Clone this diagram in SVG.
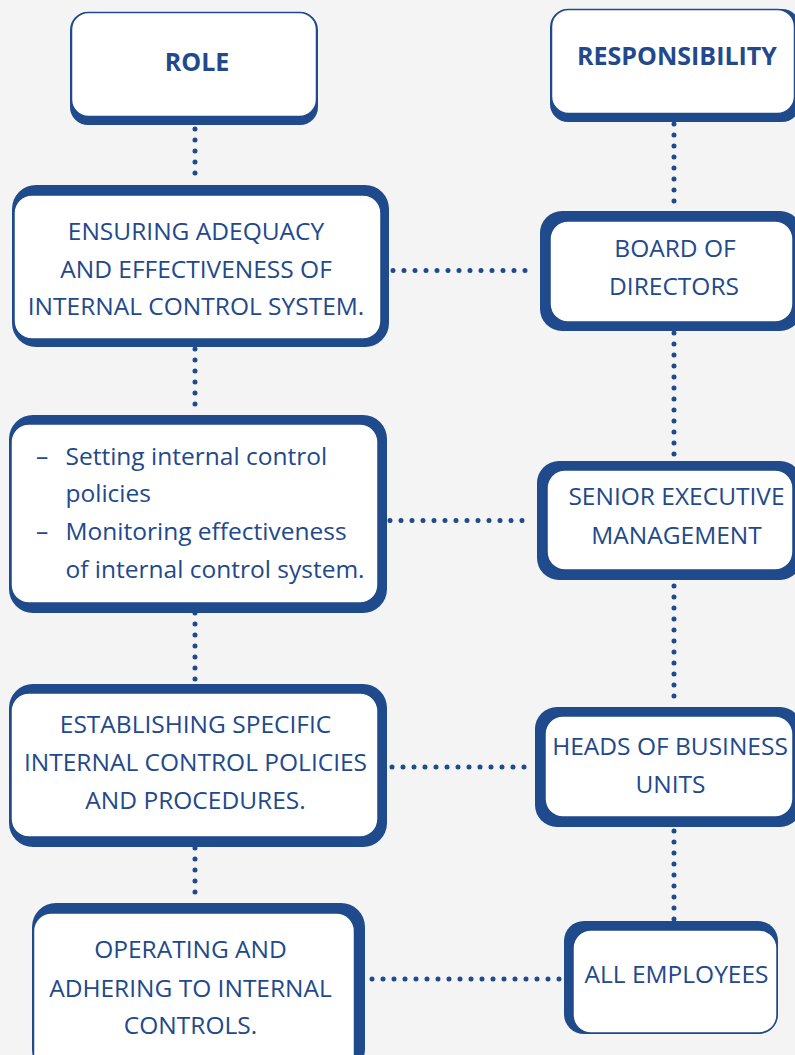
<svg xmlns="http://www.w3.org/2000/svg" width="795" height="1055" viewBox="0 0 795 1055">
<style>
.sh{fill:#1f4a8b}
.bx{fill:#ffffff;stroke:#1f4a8b;stroke-width:1.5}
.t{font-family:"Open Sans","Noto Sans",sans-serif;font-size:24.5px;fill:#22498b;text-anchor:middle}
.tl{font-family:"Open Sans","Noto Sans",sans-serif;font-size:24.5px;fill:#22498b}
.h{font-family:"Open Sans","Noto Sans",sans-serif;font-size:25px;font-weight:bold;fill:#22498b;text-anchor:middle}
.c{stroke:#1f4a8b;stroke-width:5;stroke-linecap:round;stroke-dasharray:0 11;fill:none}
</style>
<rect width="795" height="1055" fill="#f4f4f4"/>
<g id="connectors">
<line class="c" x1="195" y1="129" x2="195" y2="184"/>
<line class="c" x1="195" y1="349" x2="195" y2="415"/>
<line class="c" x1="195" y1="613" x2="195" y2="684"/>
<line class="c" x1="195" y1="848" x2="195" y2="903"/>
<line class="c" x1="674" y1="124" x2="674" y2="212"/>
<line class="c" x1="674" y1="333" x2="674" y2="461"/>
<line class="c" x1="674" y1="586" x2="674" y2="707"/>
<line class="c" x1="674" y1="831" x2="674" y2="920"/>
<line class="c" x1="393" y1="270.5" x2="536" y2="270.5"/>
<line class="c" x1="390" y1="520.5" x2="533" y2="520.5"/>
<line class="c" x1="392" y1="767" x2="532" y2="767"/>
<line class="c" x1="372" y1="979" x2="560" y2="979"/>
</g>
<g id="role">
<rect class="sh" x="70" y="12" width="248" height="113" rx="18"/>
<rect class="bx" x="71.5" y="12.5" width="245" height="104" rx="17"/>
<text class="h" x="197" y="70.5">ROLE</text>
</g>
<g id="responsibility">
<rect class="sh" x="550" y="9" width="250" height="113" rx="18"/>
<rect class="bx" x="551.5" y="9.5" width="243" height="104" rx="17"/>
<text class="h" x="677" y="65">RESPONSIBILITY</text>
</g>
<g id="role-1">
<rect class="sh" x="12" y="185" width="377" height="162" rx="24"/>
<rect class="bx" x="14" y="195" width="367" height="144" rx="18"/>
<text class="t" x="196" y="240">ENSURING ADEQUACY</text>
<text class="t" x="196" y="277.5">AND EFFECTIVENESS OF</text>
<text class="t" x="196" y="315">INTERNAL CONTROL SYSTEM.</text>
</g>
<g id="board">
<rect class="sh" x="540" y="211" width="262" height="120" rx="22"/>
<rect class="bx" x="550" y="221" width="243" height="101" rx="18"/>
<text class="t" x="675" y="256.5">BOARD OF</text>
<text class="t" x="674" y="295">DIRECTORS</text>
</g>
<g id="role-2">
<rect class="sh" x="9" y="415" width="378" height="198" rx="24"/>
<rect class="bx" x="11" y="424" width="367" height="179" rx="18"/>
<text class="tl" x="36" y="465">–</text>
<text class="tl" x="65.5" y="465">Setting internal control</text>
<text class="tl" x="65.5" y="502">policies</text>
<text class="tl" x="36" y="540">–</text>
<text class="tl" x="65.5" y="540">Monitoring effectiveness</text>
<text class="tl" x="65.5" y="578">of internal control system.</text>
</g>
<g id="senior">
<rect class="sh" x="537" y="461" width="265" height="119" rx="22"/>
<rect class="bx" x="547" y="470" width="246" height="100" rx="18"/>
<text class="t" x="676.5" y="505">SENIOR EXECUTIVE</text>
<text class="t" x="676.5" y="543.5">MANAGEMENT</text>
</g>
<g id="role-3">
<rect class="sh" x="9" y="684" width="378" height="163" rx="24"/>
<rect class="bx" x="11" y="693" width="367" height="144" rx="18"/>
<text class="t" x="195.5" y="732.5">ESTABLISHING SPECIFIC</text>
<text class="t" x="195.5" y="770.5">INTERNAL CONTROL POLICIES</text>
<text class="t" x="195.5" y="808.5">AND PROCEDURES.</text>
</g>
<g id="heads">
<rect class="sh" x="535" y="707" width="267" height="120" rx="22"/>
<rect class="bx" x="545" y="716" width="248" height="101" rx="18"/>
<text class="t" x="670" y="755">HEADS OF BUSINESS</text>
<text class="t" x="670.5" y="792.5">UNITS</text>
</g>
<g id="role-4">
<rect class="sh" x="32" y="903" width="333" height="170" rx="24"/>
<rect class="bx" x="33.5" y="913" width="321" height="160" rx="18"/>
<text class="t" x="190.5" y="958">OPERATING AND</text>
<text class="t" x="190.5" y="996.5">ADHERING TO INTERNAL</text>
<text class="t" x="190.5" y="1034">CONTROLS.</text>
</g>
<g id="employees">
<rect class="sh" x="564" y="921" width="214" height="113" rx="20"/>
<rect class="bx" x="573" y="930" width="204" height="103" rx="18"/>
<text class="t" x="676.5" y="983">ALL EMPLOYEES</text>
</g>
</svg>
